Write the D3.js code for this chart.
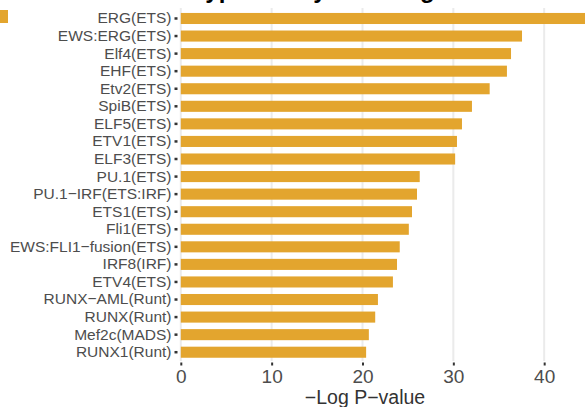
<!DOCTYPE html>
<html>
<head>
<meta charset="utf-8">
<script src="https://cdn.jsdelivr.net/npm/d3@7"></script>
<style>
  html, body { margin: 0; padding: 0; background: #ffffff; overflow: hidden; }
  svg { display: block; font-family: "Liberation Sans", Arial, Helvetica, sans-serif; }
</style>
</head>
<body>
<svg id="chart" width="585" height="407"></svg>
<script>
// Known motif enrichment, ordered by significance
const motifs = [
  "ERG(ETS)", "EWS:ERG(ETS)", "Elf4(ETS)", "EHF(ETS)", "Etv2(ETS)",
  "SpiB(ETS)", "ELF5(ETS)", "ETV1(ETS)", "ELF3(ETS)", "PU.1(ETS)",
  "PU.1\u2212IRF(ETS:IRF)", "ETS1(ETS)", "Fli1(ETS)", "EWS:FLI1\u2212fusion(ETS)", "IRF8(IRF)",
  "ETV4(ETS)", "RUNX\u2212AML(Runt)", "RUNX(Runt)", "Mef2c(MADS)", "RUNX1(Runt)"
];
const negLogP = [
  44.8, 37.56, 36.35, 35.9, 34.0,
  32.05, 30.95, 30.4, 30.2, 26.3,
  26.0, 25.45, 25.1, 24.1, 23.8,
  23.35, 21.7, 21.4, 20.7, 20.4
];
const xTicks = [0, 10, 20, 30, 40];
const titleText = "Hypermethylated Regions";
const axisTitle = "\u2212Log P\u2212value";
const barColor = "#E3A52E";

const svg = d3.select("#chart");

const x = d3.scaleLinear().domain([0, 45]).range([180.8, 589.6]);
const y = d3.scaleBand().domain(motifs).range([9.7, 361.0])
  .paddingInner(0.37).paddingOuter(0.185);

const panelTop = 8, panelBottom = 361;

// title (sits mostly above the visible area)
svg.append("text")
  .attr("x", 188).attr("y", -1.7)
  .attr("font-size", 24).attr("font-weight", "bold")
  .attr("fill", "#000")
  .text(titleText);

// legend key
svg.append("rect")
  .attr("x", -5).attr("y", 10).attr("width", 13).attr("height", 13)
  .attr("fill", barColor);

// vertical grid lines
svg.append("g").selectAll("line").data(xTicks).join("line")
  .attr("x1", d => x(d)).attr("x2", d => x(d))
  .attr("y1", panelTop).attr("y2", panelBottom)
  .attr("stroke", "#ebebeb").attr("stroke-width", 2);

// bars
svg.append("g").selectAll("rect").data(motifs).join("rect")
  .attr("x", x(0))
  .attr("y", d => y(d))
  .attr("width", (d, i) => x(negLogP[i]) - x(0))
  .attr("height", y.bandwidth())
  .attr("fill", barColor);

// y axis: labels and ticks
const yAxis = d3.axisLeft(y).tickSize(3).tickPadding(3);
const gy = svg.append("g").attr("transform", "translate(177.5,0)").call(yAxis);
gy.select(".domain").remove();
gy.selectAll(".tick line").attr("stroke", "#333").attr("stroke-width", 2.5);
gy.selectAll(".tick text")
  .attr("font-size", 15.5).attr("fill", "#4d4d4d")
  .attr("font-family", "Liberation Sans, Arial, sans-serif");

// x axis
const xAxis = d3.axisBottom(x).tickValues(xTicks).tickSize(3).tickPadding(4).tickFormat(d3.format("d"));
const gx = svg.append("g").attr("transform", `translate(0,${panelBottom + 1.5})`).call(xAxis);
gx.select(".domain").remove();
gx.selectAll(".tick line").attr("stroke", "#333").attr("stroke-width", 2);
gx.selectAll(".tick text")
  .attr("font-size", 19).attr("fill", "#4d4d4d")
  .attr("font-family", "Liberation Sans, Arial, sans-serif");

// x axis title
svg.append("text")
  .attr("x", 365).attr("y", 404)
  .attr("text-anchor", "middle")
  .attr("font-size", 19.5).attr("fill", "#333")
  .text(axisTitle);
</script>
</body>
</html>
